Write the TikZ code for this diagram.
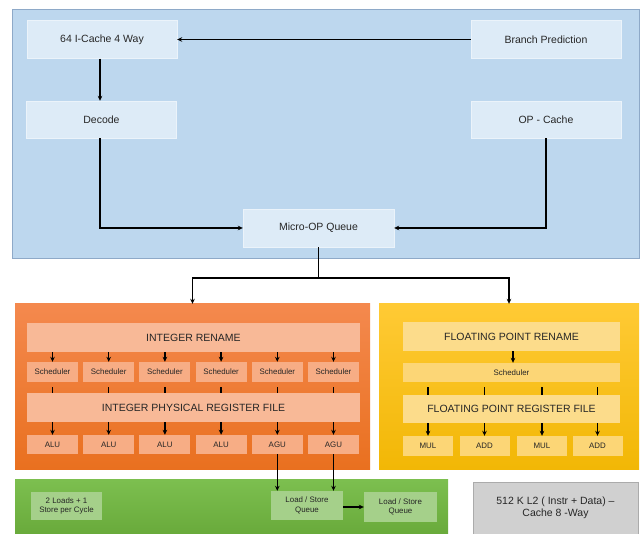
\documentclass[tikz,border=0pt]{standalone}
\usepackage{fontspec}
\setmainfont{Liberation Sans}
\usetikzlibrary{arrows.meta}
\definecolor{bluepanel}{HTML}{BDD7EE}
\definecolor{blueedge}{HTML}{8EA9C8}
\definecolor{bluebox}{HTML}{DDEBF7}
\definecolor{orgtop}{HTML}{F4894E}
\definecolor{orgbot}{HTML}{E9701F}
\definecolor{orgbox}{HTML}{F7AD85}
\definecolor{yeltop}{HTML}{FFCA35}
\definecolor{yelbot}{HTML}{F2B705}
\definecolor{yelbox}{HTML}{FCD676}
\definecolor{grntop}{HTML}{7CBF4F}
\definecolor{grnbot}{HTML}{69AA3B}
\definecolor{grnbox}{HTML}{A5D08A}
\definecolor{l2gray}{HTML}{D0D0D0}
\begin{document}
\begin{tikzpicture}[x=1pt,y=-1pt,
    panel/.style={minimum width=#1,inner sep=0pt,draw=none},
    unit/.style={minimum width=#1,inner sep=0pt,align=center,text=black!85,
      font=\fontsize{10.5}{12.5}\selectfont},
    tiny/.style={minimum width=#1,inner sep=0pt,align=center,text=black!85,
      font=\fontsize{7.9}{9.5}\selectfont},
    flow/.style={line width=1.3pt,-{Stealth[length=5pt,width=4.6pt]}},
    tick/.style={line width=1.3pt}]
  \useasboundingbox (0,0) rectangle (641,534);
  % front end
  \node[panel=627pt,minimum height=249pt,fill=bluepanel,draw=blueedge,line width=0.8pt]
    (front) at (325.5,133.5) {};
  \node[unit=150pt,minimum height=38pt,fill=bluebox,draw=bluebox!60!white] (icache) at (102,39.5) {64 I-Cache 4 Way};
  \node[unit=150pt,minimum height=38pt,fill=bluebox,draw=bluebox!60!white] (branch) at (546,39.5) {Branch Prediction};
  \node[unit=150pt,minimum height=37pt,fill=bluebox,draw=bluebox!60!white] (decode) at (101.5,119.5) {Decode};
  \node[unit=150pt,minimum height=37pt,fill=bluebox,draw=bluebox!60!white] (opcache) at (546,119.5) {OP - Cache};
  \node[unit=151pt,minimum height=38pt,fill=bluebox,draw=bluebox!60!white] (microop) at (318.5,228) {Micro-OP Queue};
  \coordinate (split) at (318.5,278);
  % integer side
  \node[panel=355pt,minimum height=166pt,top color=orgtop,bottom color=orgbot] (intpanel) at (192.5,387) {};
  \node[unit=333pt,minimum height=29pt,fill=orgbox!85!white] (intren) at (193.5,337.5) {INTEGER RENAME};
  \node[tiny=51pt,minimum height=20pt,fill=orgbox] (isch1) at (52.5,372) {Scheduler};
  \node[tiny=51pt,minimum height=20pt,fill=orgbox] (isch2) at (108.7,372) {Scheduler};
  \node[tiny=51pt,minimum height=20pt,fill=orgbox] (isch3) at (164.9,372) {Scheduler};
  \node[tiny=51pt,minimum height=20pt,fill=orgbox] (isch4) at (221.1,372) {Scheduler};
  \node[tiny=51pt,minimum height=20pt,fill=orgbox] (isch5) at (277.3,372) {Scheduler};
  \node[tiny=51pt,minimum height=20pt,fill=orgbox] (isch6) at (333.5,372) {Scheduler};
  \node[unit=333pt,minimum height=29pt,fill=orgbox!85!white] (intprf) at (193.5,407.5) {INTEGER PHYSICAL REGISTER FILE};
  \node[tiny=51pt,minimum height=19pt,fill=orgbox] (alu1) at (52.5,444.5) {ALU};
  \node[tiny=51pt,minimum height=19pt,fill=orgbox] (alu2) at (108.7,444.5) {ALU};
  \node[tiny=51pt,minimum height=19pt,fill=orgbox] (alu3) at (164.9,444.5) {ALU};
  \node[tiny=51pt,minimum height=19pt,fill=orgbox] (alu4) at (221.1,444.5) {ALU};
  \node[tiny=51pt,minimum height=19pt,fill=orgbox] (agu1) at (277.3,444.5) {AGU};
  \node[tiny=51pt,minimum height=19pt,fill=orgbox] (agu2) at (333.5,444.5) {AGU};
  % floating point side
  \node[panel=260pt,minimum height=166pt,top color=yeltop,bottom color=yelbot] (fppanel) at (509,387) {};
  \node[unit=217pt,minimum height=29pt,fill=yelbox!85!white] (fpren) at (511.5,336.5) {FLOATING POINT RENAME};
  \node[tiny=217pt,minimum height=19pt,fill=yelbox] (fpsch) at (511.5,372.5) {Scheduler};
  \node[unit=217pt,minimum height=28pt,fill=yelbox!85!white] (fpprf) at (511.5,409) {FLOATING POINT REGISTER FILE};
  \node[tiny=50pt,minimum height=20pt,fill=yelbox] (mul1) at (428,446) {MUL};
  \node[tiny=50pt,minimum height=20pt,fill=yelbox] (add1) at (484.5,446) {ADD};
  \node[tiny=50pt,minimum height=20pt,fill=yelbox] (mul2) at (542,446) {MUL};
  \node[tiny=50pt,minimum height=20pt,fill=yelbox] (add2) at (597.5,446) {ADD};
  % load / store
  \node[panel=433pt,minimum height=54pt,top color=grntop,bottom color=grnbot] (lspanel) at (231.5,507) {};
  \node[tiny=71pt,minimum height=28pt,fill=grnbox] (loads) at (66.5,506) {2 Loads + 1\\Store per Cycle};
  \node[tiny=72pt,minimum height=29pt,fill=grnbox] (lsq1) at (307,505.5) {Load / Store\\Queue};
  \node[tiny=73pt,minimum height=30pt,fill=grnbox] (lsq2) at (400.5,507) {Load / Store\\Queue};
  \node[unit=165pt,minimum height=52pt,fill=l2gray,draw=black!33] (l2) at (555.5,508) {512 K L2 ( Instr + Data) --\\Cache 8 -Way};
  \begin{scope}[flow]
    \draw (branch) to (icache);
    \draw (icache.south -| 100,0) to (decode.north -| 100,0);
    \draw (decode.south -| 100,0) |- (microop.west);
    \draw (opcache.south) |- (microop.east);
    \draw[-] (microop.south) to (split);
    \draw (split) -| (intpanel.north);
    \draw (split) -| (fppanel.north);
    \draw (intren.south -| isch1) to (isch1.north);
    \draw (intren.south -| isch2) to (isch2.north);
    \draw (intren.south -| isch3) to (isch3.north);
    \draw (intren.south -| isch4) to (isch4.north);
    \draw (intren.south -| isch5) to (isch5.north);
    \draw (intren.south -| isch6) to (isch6.north);
    \draw (intprf.south -| alu1) to (alu1.north);
    \draw (intprf.south -| alu2) to (alu2.north);
    \draw (intprf.south -| alu3) to (alu3.north);
    \draw (intprf.south -| alu4) to (alu4.north);
    \draw (intprf.south -| agu1) to (agu1.north);
    \draw (intprf.south -| agu2) to (agu2.north);
    \draw (agu1.south) to (agu1.south |- lsq1.north);
    \draw (agu2.south) to (agu2.south |- lsq1.north);
    \draw (fpren.south -| 513,0) to (fpsch.north -| 513,0);
    \draw (fpprf.south -| mul1) to (mul1.north);
    \draw (fpprf.south -| add1) to (add1.north);
    \draw (fpprf.south -| mul2) to (mul2.north);
    \draw (fpprf.south -| add2) to (add2.north);
    \draw (lsq1.east |- 0,507) to (lsq2.west);
  \end{scope}
  \begin{scope}[tick]
    \draw ([yshift=-5pt]isch1.south) to (isch1.south |- intprf.north);
    \draw ([yshift=-5pt]isch2.south) to (isch2.south |- intprf.north);
    \draw ([yshift=-5pt]isch3.south) to (isch3.south |- intprf.north);
    \draw ([yshift=-5pt]isch4.south) to (isch4.south |- intprf.north);
    \draw ([yshift=-5pt]isch5.south) to (isch5.south |- intprf.north);
    \draw ([yshift=-5pt]isch6.south) to (isch6.south |- intprf.north);
    \draw ([yshift=-5pt]fpsch.south -| mul1) to (fpprf.north -| mul1);
    \draw ([yshift=-5pt]fpsch.south -| add1) to (fpprf.north -| add1);
    \draw ([yshift=-5pt]fpsch.south -| mul2) to (fpprf.north -| mul2);
    \draw ([yshift=-5pt]fpsch.south -| add2) to (fpprf.north -| add2);
  \end{scope}
\end{tikzpicture}
\end{document}
